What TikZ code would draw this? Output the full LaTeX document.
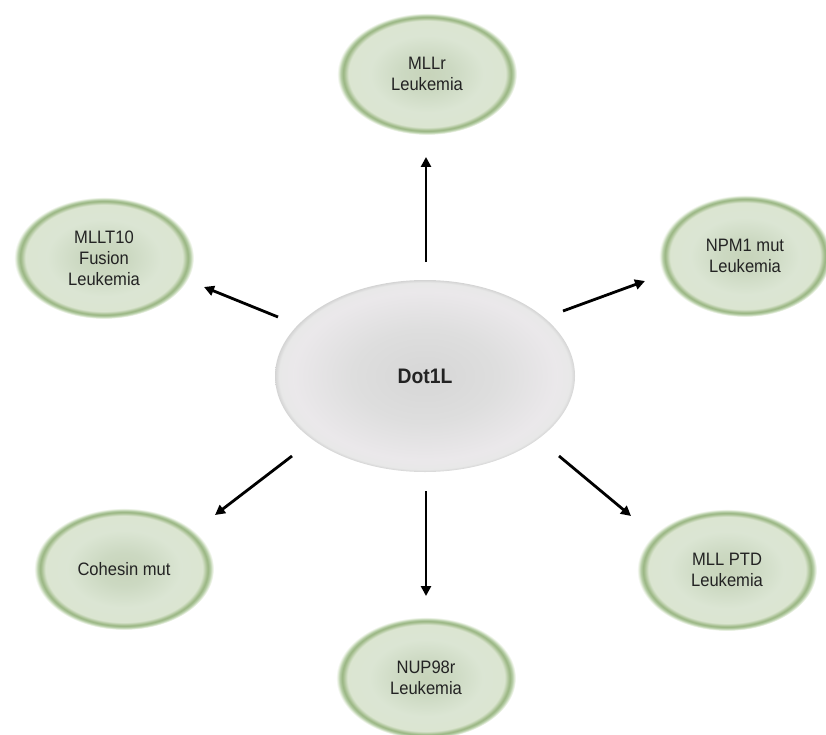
\documentclass[tikz,border=0pt]{standalone}
\usepackage{fontspec}
\setmainfont{Liberation Sans}[FakeStretch=0.92]
\usetikzlibrary{shapes.geometric,arrows.meta}
\pgfdeclareradialshading{greenell}{\pgfpointorigin}{rgb(0bp)=(0.78,0.83,0.73); rgb(7bp)=(0.80,0.85,0.76); rgb(16bp)=(0.86,0.90,0.83); rgb(21.8bp)=(0.86,0.90,0.82); rgb(22.8bp)=(0.68,0.77,0.60); rgb(23.3bp)=(0.60,0.71,0.51); rgb(24.0bp)=(0.72,0.81,0.66); rgb(24.6bp)=(0.91,0.94,0.88); rgb(25bp)=(1,1,1); rgb(50bp)=(1,1,1)}
\pgfdeclareradialshading{grayell}{\pgfpointorigin}{rgb(0bp)=(0.84,0.84,0.84); rgb(12bp)=(0.87,0.87,0.87); rgb(22bp)=(0.92,0.91,0.92); rgb(24.3bp)=(0.91,0.91,0.91); rgb(25bp)=(0.83,0.83,0.83); rgb(50bp)=(0.83,0.83,0.83)}
\definecolor{txt}{RGB}{35,35,35}
\tikzset{
  leaf/.style={ellipse, shading=greenell, minimum width=180pt, minimum height=122pt,
    inner sep=0pt, align=center, text=txt, font=\fontsize{18}{21}\selectfont},
  hub/.style={ellipse, shading=grayell, minimum width=300pt, minimum height=192pt,
    inner sep=0pt, text=txt, font=\bfseries\fontsize{21}{24}\selectfont},
  arr/.style={-{Triangle[length=10pt,width=10pt]}, line width=2.8pt, black}
}
\begin{document}
\begin{tikzpicture}[x=1pt,y=-1pt]
\useasboundingbox (0,0) rectangle (826,735);
\node[hub] (dot) at (425,376) {Dot1L};
\node[leaf] (mllr) at (427,74) {MLLr\\Leukemia};
\node[leaf] (mllt) at (104,258) {MLLT10\\Fusion\\Leukemia};
\node[leaf, minimum width=172pt] (npm) at (745,256) {NPM1 mut\\Leukemia};
\node[leaf] (coh) at (124,569) {Cohesin mut};
\node[leaf] (ptd) at (727,570) {MLL PTD\\Leukemia};
\node[leaf] (nup) at (426,678) {NUP98r\\Leukemia};
\coordinate (s1) at (426,262); \coordinate (e1) at (426,157);
\coordinate (s2) at (278,317); \coordinate (e2) at (204,287);
\coordinate (s3) at (563,311); \coordinate (e3) at (645,281);
\coordinate (s4) at (292,456); \coordinate (e4) at (215,515);
\coordinate (s5) at (426,491); \coordinate (e5) at (426,596);
\coordinate (s6) at (559,456); \coordinate (e6) at (631,516);
\draw[arr] (s1) -- (e1);
\draw[arr] (s2) -- (e2);
\draw[arr] (s3) -- (e3);
\draw[arr] (s4) -- (e4);
\draw[arr] (s5) -- (e5);
\draw[arr] (s6) -- (e6);
\end{tikzpicture}
\end{document}
